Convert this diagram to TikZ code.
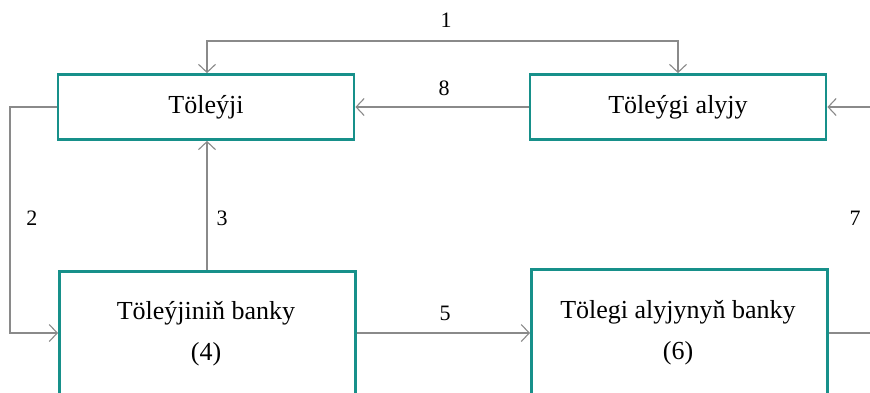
\documentclass[tikz,border=0pt]{standalone}
\usepackage{fontspec}
\setmainfont{Liberation Serif}
\usetikzlibrary{arrows.meta}
\definecolor{teal1}{HTML}{17908A}
\definecolor{conn}{HTML}{8A8A8A}
\tikzset{
  box/.style={draw=teal1, line width=2.8pt, fill=white, inner sep=0pt, font=\fontsize{26}{31}\selectfont},
  conn/.style={draw=conn, line width=1.1pt},
  arr/.style={conn, -{Straight Barb[length=8pt,width=17pt,line width=1.1pt]}},
  lbl/.style={font=\fontsize{22}{26}\selectfont, inner sep=0pt}
}
\begin{document}
\begin{tikzpicture}[x=1pt,y=-1pt]
\useasboundingbox (0,0) rectangle (870,392);
\node[box, minimum width=296pt, minimum height=65pt] (payer) at (206,107) {Töleýji};
\node[box, minimum width=296pt, minimum height=65pt] (payee) at (678,107) {Töleýgi alyjy};
\node[box, minimum width=296pt, minimum height=150pt, anchor=north west] (bankA) at (58,270) {};
\node[box, minimum width=296pt, minimum height=150pt, anchor=north west] (bankB) at (530,268) {};
\node[font=\fontsize{26}{31}\selectfont, align=center, inner sep=0pt] (tA) at (206,334) {Töleýjiniň banky\\[10pt](4)};
\node[font=\fontsize{26}{31}\selectfont, align=center, inner sep=0pt] (tB) at (678,333) {Tölegi alyjynyň banky\\[10pt](6)};
\coordinate (c1a) at (207,41);
\coordinate (c1b) at (678,41);
\coordinate (c2a) at (10,107);
\coordinate (c2b) at (10,333);
\coordinate (c7a) at (870,107);
\coordinate (c7b) at (870,333);
% 1
\draw[arr] (c1b) -- (c1a) -- (payer.north -| c1a);
\draw[arr] (c1a) -- (c1b) -- (payee.north -| c1b);
% 8
\draw[arr] (payee.west) -- (payer.east);
% 2
\draw[arr] (payer.west) -- (c2a) -- (c2b) -- (c2b -| bankA.west);
% 3
\draw[arr] (bankA.north -| c1a) -- (payer.south -| c1a);
% 5
\draw[arr] (bankA.east |- c2b) -- (bankB.west |- c2b);
% 7
\draw[conn] (bankB.east |- c7b) -- (c7b);
\draw[arr] (c7a) -- (payee.east);
% labels
\node[lbl] (l1) at (446,20) {1};
\node[lbl] (l8) at (444,88) {8};
\node[lbl] (l2) at (32,218) {2};
\node[lbl] (l3) at (222,218) {3};
\node[lbl] (l5) at (445,313) {5};
\node[lbl] (l7) at (855,218) {7};
\end{tikzpicture}
\end{document}
